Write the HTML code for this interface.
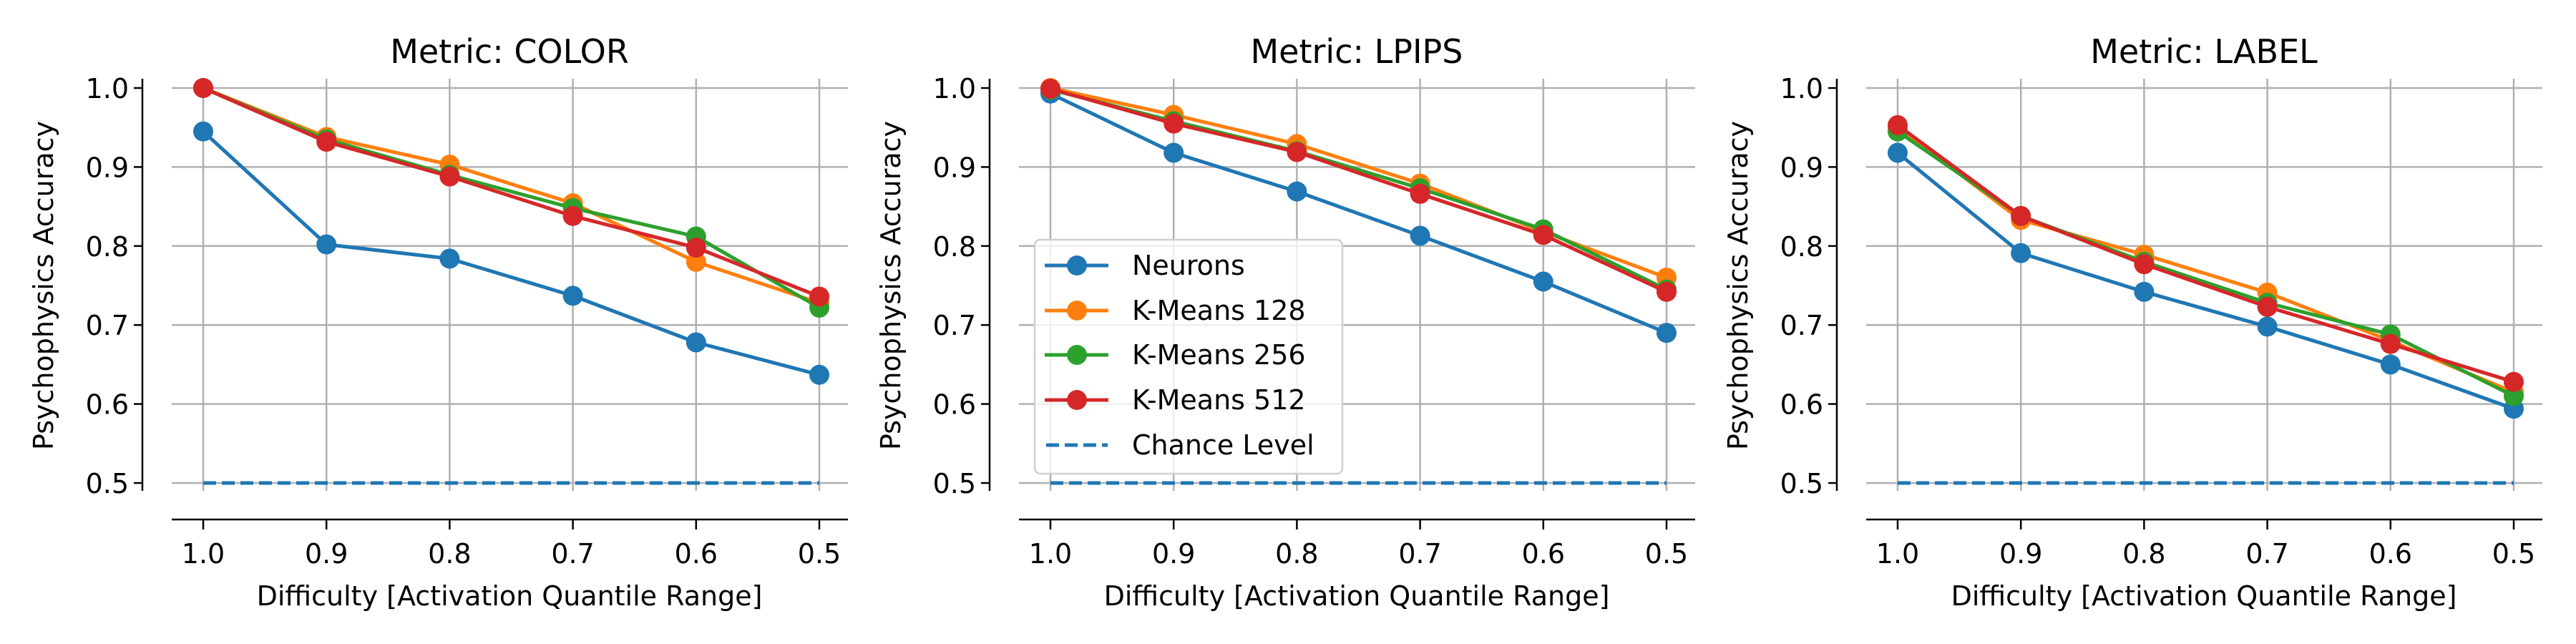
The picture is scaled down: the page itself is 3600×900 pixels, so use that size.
<!DOCTYPE html>
<html><head><meta charset="utf-8"><style>
html,body{margin:0;padding:0;background:#fff;}
svg{display:block;font-family:"DejaVu Sans","Liberation Sans",sans-serif;}
</style></head><body>
<svg id="chart" width="3600" height="900" viewBox="0 0 3600 900" xmlns="http://www.w3.org/2000/svg"></svg>
<script>
const categories = [1.0, 0.9, 0.8, 0.7, 0.6, 0.5];
const yTicks = [0.5, 0.6, 0.7, 0.8, 0.9, 1.0];
const xTickLabels = ["1.0", "0.9", "0.8", "0.7", "0.6", "0.5"];
const yTickLabels = ["0.5", "0.6", "0.7", "0.8", "0.9", "1.0"];
const panelTitles = ["Metric: COLOR", "Metric: LPIPS", "Metric: LABEL"];
const seriesNames = ["Neurons", "K-Means 128", "K-Means 256", "K-Means 512"];
const seriesColors = ["#1f77b4", "#ff7f0e", "#2ca02c", "#d62728"];
const chanceLevel = 0.5;
const colorNeurons = [0.945, 0.802, 0.784, 0.737, 0.678, 0.637];
const colorK128 = [1.0, 0.938, 0.903, 0.854, 0.780, 0.728];
const colorK256 = [1.0, 0.935, 0.890, 0.848, 0.812, 0.722];
const colorK512 = [1.0, 0.932, 0.888, 0.838, 0.798, 0.736];
const lpipsNeurons = [0.993, 0.918, 0.869, 0.813, 0.755, 0.690];
const lpipsK128 = [1.0, 0.966, 0.929, 0.879, 0.818, 0.760];
const lpipsK256 = [0.998, 0.958, 0.920, 0.873, 0.821, 0.745];
const lpipsK512 = [0.999, 0.955, 0.919, 0.866, 0.814, 0.742];
const labelNeurons = [0.918, 0.791, 0.742, 0.698, 0.650, 0.594];
const labelK128 = [0.950, 0.833, 0.789, 0.741, 0.680, 0.615];
const labelK256 = [0.945, 0.838, 0.780, 0.728, 0.688, 0.610];
const labelK512 = [0.953, 0.838, 0.777, 0.723, 0.676, 0.628];
const panelData = [
  [colorNeurons, colorK128, colorK256, colorK512],
  [lpipsNeurons, lpipsK128, lpipsK256, lpipsK512],
  [labelNeurons, labelK128, labelK256, labelK512]
];

const NS = "http://www.w3.org/2000/svg";
const svg = document.getElementById("chart");
function mk(tag, attrs, parent, text) {
  const e = document.createElementNS(NS, tag);
  for (const k in attrs) e.setAttribute(k, attrs[k]);
  if (text !== undefined) e.textContent = text;
  parent.appendChild(e);
  return e;
}
const PANEL_DX = 1184;
for (let p = 0; p < 3; p++) {
  const ox = p * PANEL_DX;
  const xScale = v => ox + 284 + (1.0 - v) / 0.5 * 861;
  const yScale = v => 123 + (1.0 - v) / 0.5 * 552;
  const g = mk("g", {}, svg);
  
  
  // grid
  yTicks.forEach(t => {
    const l = mk("line", {x1: ox + 240, x2: ox + 1185, y1: yScale(t), y2: yScale(t), stroke: "#b0b0b0", "stroke-width": 2.5}, g);
    
    
  });
  categories.forEach(c => {
    const l = mk("line", {x1: xScale(c), x2: xScale(c), y1: 110, y2: 686, stroke: "#b0b0b0", "stroke-width": 2.5}, g);
    
    
  });
  // spines
  const ys = mk("line", {x1: ox + 199, x2: ox + 199, y1: 110, y2: 686, stroke: "#000", "stroke-width": 2.5}, g);
  
  
  const xs = mk("line", {x1: ox + 240, x2: ox + 1185, y1: 726, y2: 726, stroke: "#000", "stroke-width": 2.5}, g);
  
  
  // y ticks
  yTicks.forEach((t, i) => {
    mk("line", {x1: ox + 187, x2: ox + 199, y1: yScale(t), y2: yScale(t), stroke: "#000", "stroke-width": 2.5}, g);
    const tx = mk("text", {x: ox + 180, y: yScale(t) + 14, "text-anchor": "end", "font-size": 38, fill: "#000"}, g, yTickLabels[i]);
    
    
  });
  // x ticks
  categories.forEach((c, i) => {
    mk("line", {x1: xScale(c), x2: xScale(c), y1: 726, y2: 740, stroke: "#000", "stroke-width": 2.5}, g);
    const tx = mk("text", {x: xScale(c), y: 787, "text-anchor": "middle", "font-size": 38, fill: "#000"}, g, xTickLabels[i]);
    
    
  });
  // titles
  const tt = mk("text", {x: ox + 712, y: 88, "text-anchor": "middle", "font-size": 46, fill: "#000"}, g, panelTitles[p]);
  
  
  const xl = mk("text", {x: ox + 712, y: 846, "text-anchor": "middle", "font-size": 38, fill: "#000"}, g, "Difficulty [Activation Quantile Range]");
  
  
  const yl = mk("text", {x: 0, y: 0, "text-anchor": "middle", "font-size": 38, fill: "#000", transform: `translate(${ox + 74},399) rotate(-90)`}, g, "Psychophysics Accuracy");
  
  
  // chance
  const ch = mk("line", {x1: xScale(categories[0]), x2: xScale(categories[5]), y1: yScale(chanceLevel), y2: yScale(chanceLevel), stroke: "#1f77b4", "stroke-width": 5, "stroke-dasharray": "18 8"}, g);
  
  
  // series
  panelData[p].forEach((vals, s) => {
    const sg = mk("g", {}, g);
    
    
    const pts = vals.map((v, i) => xScale(categories[i]) + "," + yScale(v)).join(" ");
    mk("polyline", {points: pts, fill: "none", stroke: seriesColors[s], "stroke-width": 5, "stroke-linejoin": "round"}, sg);
    vals.forEach((v, i) => {
      const c = mk("circle", {cx: xScale(categories[i]), cy: yScale(v), r: 14, fill: seriesColors[s]}, sg);
      
      
    });
  });
}
// legend (panel 2)
const lg = mk("g", {}, svg);


mk("rect", {x: 1446, y: 335, width: 430, height: 327, rx: 8, fill: "#fff", "fill-opacity": 0.8, stroke: "#d0d0d0", "stroke-width": 2.5}, lg);
const legendY = [371, 434, 496, 559, 622];
seriesNames.forEach((n, s) => {
  const eg = mk("g", {}, lg);
  
  
  mk("line", {x1: 1460, x2: 1549, y1: legendY[s], y2: legendY[s], stroke: seriesColors[s], "stroke-width": 5}, eg);
  mk("circle", {cx: 1505, cy: legendY[s], r: 14, fill: seriesColors[s]}, eg);
  mk("text", {x: 1582, y: legendY[s] + 13, "font-size": 38, fill: "#000"}, eg, n);
});
const ce = mk("g", {}, lg);


mk("line", {x1: 1462, x2: 1548, y1: legendY[4], y2: legendY[4], stroke: "#1f77b4", "stroke-width": 5, "stroke-dasharray": "18 8"}, ce);
mk("text", {x: 1582, y: legendY[4] + 13, "font-size": 38, fill: "#000"}, ce, "Chance Level");
</script>
</body></html>
